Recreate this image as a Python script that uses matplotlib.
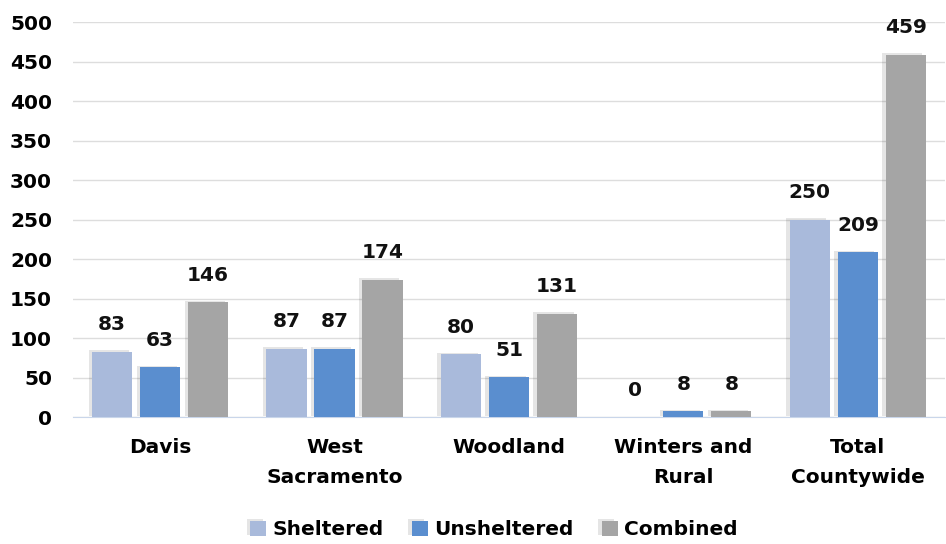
import numpy as np
import matplotlib.pyplot as plt
import matplotlib.patheffects as pe

categories = ["Davis", "West\nSacramento", "Woodland", "Winters and\nRural", "Total\nCountywide"]
sheltered = [83, 87, 80, 0, 250]
unsheltered = [63, 87, 51, 8, 209]
combined = [146, 174, 131, 8, 459]
series_names = ["Sheltered", "Unsheltered", "Combined"]
colors = ["#A9BADB", "#5A8ECF", "#A5A5A5"]

plt.rcParams['font.family'] = ['DejaVu Sans']
plt.rcParams['font.weight'] = 'bold'
fs = 14.5

fig = plt.figure(figsize=(9.46, 5.44), dpi=100)
ax = fig.add_axes([0.077, 0.233, 0.922, 0.726])

x = np.arange(len(categories))
step = 0.275
width = 0.23
shadow = [pe.SimplePatchShadow(offset=(-2.5, 1), shadow_rgbFace='#000000', alpha=0.1), pe.Normal()]

for i, (vals, name, col) in enumerate(zip([sheltered, unsheltered, combined], series_names, colors)):
    pos = x + (i - 1) * step
    bars = ax.bar(pos, vals, width, color=col, label=name, zorder=3)
    for b in bars:
        b.set_path_effects(shadow)
    # value labels above the bars
    for p, v in zip(pos, vals):
        ax.text(p, v + 22, str(v), ha='center', va='bottom', fontsize=fs,
                fontweight='bold', color='#111111', zorder=4)

ax.set_ylim(0, 500)
ax.set_xlim(-0.5, len(categories) - 0.5)
ax.set_yticks(range(0, 501, 50))
ax.set_xticks(x)
ax.set_xticklabels(categories, fontsize=fs, fontweight='bold', linespacing=1.75)
ax.tick_params(axis='y', labelsize=fs, length=0, pad=15)
ax.tick_params(axis='x', length=0, pad=15)
for lab in ax.get_yticklabels():
    lab.set_fontweight('bold')
ax.grid(axis='y', color='#DDDDDD', linewidth=1, zorder=0)
for s in ['top', 'right', 'left']:
    ax.spines[s].set_visible(False)
ax.spines['bottom'].set_color('#C9D6EA')

handles, labels = ax.get_legend_handles_labels()
fig.legend(handles, labels, loc='center', bbox_to_anchor=(0.522, 0.026), ncol=3,
           frameon=False, handlelength=0.8, handleheight=0.8,
           handletextpad=0.3, columnspacing=1.4, prop={'weight': 'bold', 'size': fs})

fig.savefig('out.png', dpi=100)
